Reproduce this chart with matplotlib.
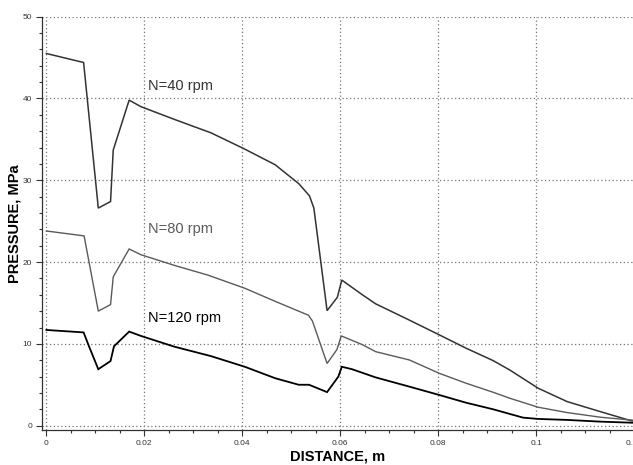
import matplotlib
matplotlib.use("Agg")
import matplotlib.pyplot as plt
from matplotlib.ticker import MultipleLocator, FixedLocator

plt.rcParams['font.family'] = ['Liberation Sans', 'DejaVu Sans']

# ---- data ----
x40 = [0, 0.0076, 0.0106, 0.0131, 0.01365, 0.0169, 0.0193, 0.0261, 0.0336, 0.0402,
       0.0467, 0.0494, 0.0515, 0.0537, 0.0546, 0.0573, 0.0594, 0.0603, 0.0645, 0.0672,
       0.0741, 0.0802, 0.0857, 0.0912, 0.0946, 0.1004, 0.1063, 0.1131, 0.1193, 0.121]
y40 = [45.5, 44.4, 26.6, 27.4, 33.7, 39.8, 39.0, 37.45, 35.8, 33.9,
       31.9, 30.6, 29.6, 28.1, 26.6, 14.06, 15.7, 17.8, 16.0, 14.9,
       12.9, 11.1, 9.46, 7.95, 6.8, 4.57, 2.94, 1.71, 0.61, 0.5]

x80 = [0, 0.0077, 0.0106, 0.0131, 0.01365, 0.0169, 0.0193, 0.0261, 0.033, 0.0405,
       0.0467, 0.0535, 0.0543, 0.0573, 0.0593, 0.0602, 0.0645, 0.0672, 0.0741, 0.0802,
       0.0857, 0.0912, 0.0946, 0.1004, 0.1063, 0.1131, 0.121]
y80 = [23.8, 23.2, 14.0, 14.8, 18.2, 21.6, 20.9, 19.6, 18.4, 16.8,
       15.2, 13.5, 12.8, 7.6, 9.3, 10.97, 9.9, 9.05, 8.03, 6.4,
       5.18, 4.08, 3.35, 2.25, 1.6, 1.03, 0.6]

x120 = [0, 0.0076, 0.0087, 0.0106, 0.0131, 0.0138, 0.0169, 0.0193, 0.0261, 0.0336,
        0.0405, 0.0467, 0.0515, 0.0536, 0.0573, 0.0596, 0.0603, 0.0624, 0.0672, 0.0741,
        0.0802, 0.0857, 0.0912, 0.0946, 0.0973, 0.1004, 0.1063, 0.1131, 0.121]
y120 = [11.7, 11.4, 9.7, 6.9, 7.9, 9.7, 11.5, 10.97, 9.66, 8.5,
        7.2, 5.8, 5.0, 5.0, 4.1, 6.0, 7.2, 6.9, 5.9, 4.77,
        3.75, 2.8, 2.0, 1.43, 0.98, 0.82, 0.70, 0.49, 0.33]

labels = ["N=40 rpm", "N=80 rpm", "N=120 rpm"]
label_y = [41.5, 24.0, 13.2]
label_x = 0.0207
colors = ["#333333", "#5a5a5a", "#000000"]
xticks = [0, 0.02, 0.04, 0.06, 0.08, 0.1, 0.12]
xticklabels = ["0", "0.02", "0.04", "0.06", "0.08", "0.1", "0.12"]
yticks = [0, 10, 20, 30, 40, 50]

# ---- figure ----
fig = plt.figure(figsize=(6.33, 4.65), dpi=100)
ax = fig.add_axes([0.0659, 0.0753, 0.9361, 0.8888])

for xs, ys, c, lw in zip([x40, x80, x120], [y40, y80, y120], colors, [1.1, 1.0, 1.3]):
    ax.plot(xs, ys, color=c, lw=lw, solid_joinstyle='miter')

for t, yy, c in zip(labels, label_y, colors):
    ax.text(label_x, yy, t, fontsize=10.5, color=c, va='center', ha='left')

ax.set_xlim(-0.00095, 0.12)
ax.set_ylim(-0.53, 50)

ax.xaxis.set_major_locator(FixedLocator(xticks))
ax.set_xticklabels(xticklabels)
ax.yaxis.set_major_locator(FixedLocator(yticks))
ax.xaxis.set_minor_locator(MultipleLocator(0.005))
ax.yaxis.set_minor_locator(MultipleLocator(2))

ax.grid(True, which='major', color='#777777', linestyle=(0, (1, 2)), linewidth=0.9)

for s in ['top', 'right']:
    ax.spines[s].set_visible(False)
for s in ['left', 'bottom']:
    ax.spines[s].set_color('#333333')
    ax.spines[s].set_linewidth(0.9)

ax.tick_params(which='major', direction='out', length=4, width=0.8, color='#333333',
               labelsize=6, labelcolor='#333333', pad=3)
ax.tick_params(which='minor', direction='out', length=2, width=0.8, color='#333333')

ax.set_xlabel("DISTANCE, m", fontsize=10.5, fontweight='bold', labelpad=2)
ax.set_ylabel("PRESSURE, MPa", fontsize=10.5, fontweight='bold', labelpad=1)

fig.savefig("out.png", dpi=100)
